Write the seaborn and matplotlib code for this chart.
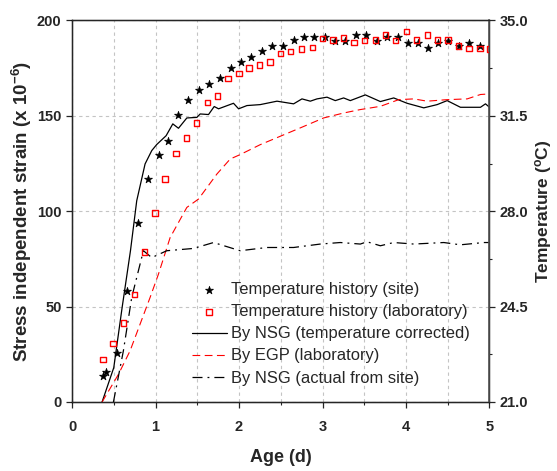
import pandas as pd
import matplotlib
matplotlib.use('Agg')
import matplotlib.pyplot as plt
import seaborn as sns
from matplotlib.ticker import MultipleLocator, FormatStrFormatter

# temperature history, site (stars)
site_age = [0.375, 0.41, 0.535, 0.655, 0.79, 0.915, 1.04, 1.145, 1.265, 1.395, 1.525, 1.645, 1.775,
            1.9, 2.02, 2.145, 2.275, 2.4, 2.525, 2.655, 2.78, 2.9, 3.025, 3.15, 3.275, 3.4, 3.525,
            3.655, 3.775, 3.9, 4.025, 4.14, 4.26, 4.385, 4.505, 4.63, 4.76, 4.885]
site_temp = [21.95, 22.1, 22.78, 25.07, 27.58, 29.17, 30.08, 30.56, 31.54, 32.08, 32.46, 32.67, 32.88,
             33.26, 33.48, 33.66, 33.87, 34.07, 34.08, 34.29, 34.39, 34.39, 34.39, 34.24, 34.24, 34.47, 34.47,
             34.26, 34.39, 34.39, 34.17, 34.17, 33.98, 34.17, 34.26, 34.07, 34.17, 34.07]

# temperature history, laboratory (squares)
lab_age = [0.37, 0.49, 0.615, 0.745, 0.865, 0.995, 1.115, 1.245, 1.37, 1.49, 1.62, 1.745, 1.87,
           2.0, 2.12, 2.245, 2.37, 2.495, 2.62, 2.75, 2.88, 3.0, 3.125, 3.255, 3.375, 3.5, 3.635,
           3.755, 3.875, 4.005, 4.125, 4.255, 4.375, 4.505, 4.63, 4.755, 4.885, 5.0]
lab_temp = [22.56, 23.14, 23.9, 24.95, 26.5, 27.93, 29.18, 30.12, 30.69, 31.24, 32.0, 32.23, 32.88,
            33.06, 33.25, 33.36, 33.48, 33.79, 33.87, 33.95, 34.0, 34.35, 34.29, 34.36, 34.2, 34.26, 34.29,
            34.47, 34.26, 34.6, 34.29, 34.47, 34.29, 34.29, 34.07, 33.98, 33.98, 33.96]

# NSG, temperature corrected
nsg_age = [0.36, 0.5, 0.6, 0.7, 0.775, 0.875, 0.955, 1.015, 1.127, 1.207, 1.275, 1.375, 1.495, 1.535,
           1.635, 1.703, 1.755, 1.934, 1.995, 2.095, 2.254, 2.455, 2.654, 2.754, 2.854, 2.934, 3.054,
           3.153, 3.253, 3.333, 3.513, 3.693, 3.853, 4.013, 4.213, 4.373, 4.493, 4.652, 4.892, 4.952, 5.0]
nsg_strain = [0, 18, 49.5, 79.3, 105.5, 124.8, 131.8, 135, 139.6, 145.8, 143.5, 148.9, 149.2, 151,
              150.7, 154.9, 153.7, 156.6, 153.7, 155.4, 155.9, 157.7, 156.3, 158.9, 157.7, 158.9, 159.8,
              158, 159.4, 158, 161, 157.5, 159.4, 156.6, 154.2, 155.9, 158, 154.5, 154.5, 156.3, 154.5]

# EGP, laboratory
egp_age = [0.36, 0.556, 0.695, 0.815, 0.935, 1.035, 1.175, 1.375, 1.515, 1.735, 1.895, 2.014, 2.254,
           2.494, 2.734, 3.013, 3.253, 3.453, 3.693, 3.913, 4.093, 4.253, 4.493, 4.733, 4.892, 5.0]
egp_strain = [0, 14.5, 26.8, 40.8, 54.8, 67, 86.2, 102, 106.4, 119.5, 127.4, 129.7, 134.9,
              139.3, 143.7, 148.9, 151.5, 153.3, 155, 158.5, 158.9, 157.7, 158.5, 158.9, 161.2, 161.5]

# NSG, actual from site
act_age = [0.496, 0.615, 0.715, 0.855, 0.955, 1.135, 1.375, 1.455, 1.695, 2.014, 2.334, 2.654,
           2.974, 3.213, 3.453, 3.533, 3.693, 3.853, 4.093, 4.453, 4.652, 4.932, 5.0]
act_strain = [0, 26.8, 54.8, 79.3, 75.7, 79.3, 80.2, 80.5, 83.6, 79.3, 81, 81,
              82.8, 83.6, 82.8, 84, 81.9, 83.6, 82.8, 83.6, 82.4, 83.6, 83.6]

sns.set_style('ticks')
plt.rcParams['font.family'] = ['Liberation Sans', 'DejaVu Sans']
plt.rcParams['font.weight'] = 'bold'
plt.rcParams['mathtext.default'] = 'regular'

fig = plt.figure(figsize=(5.57, 4.71), dpi=100)
ax = fig.add_axes([0.1293, 0.1465, 0.7495, 0.81])
ax2 = ax.twinx()

sns.lineplot(x=nsg_age, y=nsg_strain, ax=ax, color='black', lw=0.9, sort=False,
             label='By NSG (temperature corrected)')
sns.lineplot(x=egp_age, y=egp_strain, ax=ax, color='red', lw=0.8, sort=False,
             label='By EGP (laboratory)')
sns.lineplot(x=act_age, y=act_strain, ax=ax, color='black', lw=0.9, sort=False,
             label='By NSG (actual from site)')
ax.lines[1].set_dashes([7, 4])
ax.lines[2].set_dashes([8, 4, 1.5, 4])

sns.scatterplot(x=site_age, y=site_temp, ax=ax2, marker='*', s=36, facecolor='black',
                edgecolor='black', linewidth=0.5, label='Temperature history (site)', zorder=5)
sns.scatterplot(x=lab_age, y=lab_temp, ax=ax2, marker='s', s=15, facecolor='none',
                edgecolor='red', linewidth=1.0, label='Temperature history (laboratory)', zorder=5)

ax.set_xlim(0, 5)
ax.set_ylim(0, 200)
ax2.set_ylim(21, 35)

ax.xaxis.set_major_locator(MultipleLocator(1))
ax.xaxis.set_minor_locator(MultipleLocator(0.5))
ax.yaxis.set_major_locator(MultipleLocator(50))
ax2.yaxis.set_major_locator(MultipleLocator(3.5))
ax2.yaxis.set_minor_locator(MultipleLocator(1.75))
ax2.yaxis.set_major_formatter(FormatStrFormatter('%.1f'))

ax.grid(True, which='both', axis='x', ls=(0, (3, 3)), color='#c4c4c4', lw=0.8)
ax.grid(True, which='major', axis='y', ls=(0, (3, 3)), color='#c4c4c4', lw=0.8)
ax2.grid(False)

ax.tick_params(axis='both', which='major', direction='out', length=4, width=0.9, labelsize=10.5)
ax.tick_params(axis='x', which='minor', direction='out', length=2.5, width=0.8)
ax2.tick_params(axis='y', which='major', direction='out', length=4, width=0.9, labelsize=10.5, pad=3)
ax2.tick_params(axis='y', which='minor', direction='out', length=2.5, width=0.8)
ax.tick_params(axis='x', pad=9)
ax.tick_params(axis='y', pad=3.5)

for sp in ax.spines.values():
    sp.set_color('black')
    sp.set_linewidth(1.0)
ax2.spines['right'].set_color('#555555')
ax2.spines['right'].set_linewidth(1.2)

ax.set_xlabel('Age (d)', fontsize=13, fontweight='bold', labelpad=11)
ax.set_ylabel(r'Stress independent strain (x 10$^{-6}$)', fontsize=13.5, fontweight='bold')
ax2.set_ylabel(r'Temperature ($^{o}$C)', fontsize=12.5, fontweight='bold')
ax.yaxis.set_label_coords(-0.092, 0.5)
ax2.yaxis.set_label_coords(1.104, 0.5)

h1, l1 = ax.get_legend_handles_labels()
h2, l2 = ax2.get_legend_handles_labels()
ax.get_legend().remove()
ax2.legend(h2 + h1, l2 + l1, loc='lower left', bbox_to_anchor=(0.287, 0.043), frameon=False,
           borderpad=0, borderaxespad=0, handlelength=2.1, handletextpad=0.25,
           labelspacing=0.43, prop={'weight': 'normal', 'size': 11.9})

fig.savefig('out.png', dpi=100)
